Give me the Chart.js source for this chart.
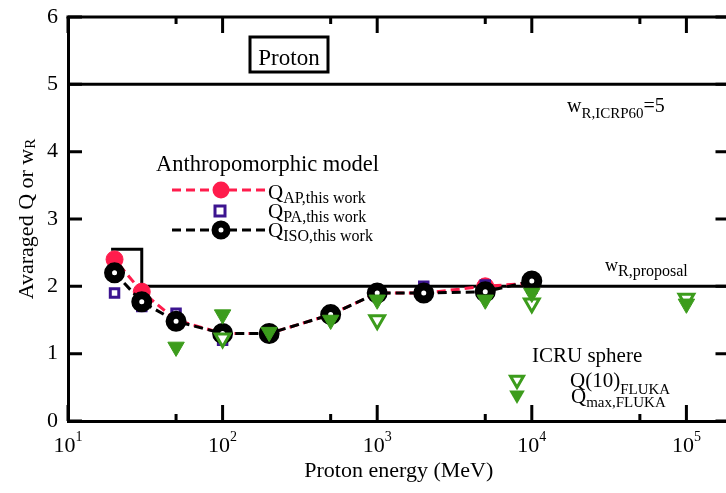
<!DOCTYPE html>
<html><head><meta charset="utf-8">
<script src="https://cdn.jsdelivr.net/npm/chart.js@4.4.1/dist/chart.umd.min.js"></script>
<style>html,body{margin:0;padding:0;background:#fff;overflow:hidden;width:726px;height:493px}canvas{display:block}</style>
</head><body><canvas id="c" width="744" height="493"></canvas>
<script>
// ---- data ----
const energies = [20, 30, 50, 100, 200, 500, 1000, 2000, 5000, 10000];
const qAP  = [2.40, 1.92, 1.50, 1.30, 1.30, 1.58, 1.90, 1.90, 2.00, 2.05];
const qPA  = [1.90, 1.70, 1.60, 1.20, 1.28, 1.56, 1.92, 2.00, 2.02, 1.97];
const qISO = [2.20, 1.77, 1.48, 1.30, 1.30, 1.58, 1.90, 1.90, 1.92, 2.08];
const qMaxEnergies = [50, 100, 200, 500, 1000, 5000, 10000, 100000];
const qMaxFluka    = [1.10, 1.58, 1.32, 1.50, 1.80, 1.80, 1.90, 1.74];
const q10Energies  = [100, 1000, 10000, 100000];
const q10Fluka     = [1.23, 1.50, 1.75, 1.82];
const icrp60Energies = [10, 190000];
const icrp60Values   = [5, 5];
const proposalEnergies = [19, 30, 30, 190000];
const proposalValues   = [2.55, 2.55, 2, 2];
const yTickValues  = [0, 1, 2, 3, 4, 5, 6];
const xMajorTicks  = [10, 100, 1000, 10000, 100000];
const xTickExps    = ['1', '2', '3', '4', '5'];
const xMinorTicks  = [50, 500, 5000, 50000];

const RED = '#ff1c4c', PURPLE = '#3c1490', GREEN = '#3c9c1c', BLACK = '#000';
const SERIF = '"Liberation Serif", "Times New Roman", serif';
const pts = (xs, ys) => xs.map((e, i) => ({x: e, y: ys[i]}));

function subText(ctx, x, y, main, sub, mainPx, subPx, dy) {
  ctx.font = mainPx + 'px ' + SERIF;
  ctx.fillText(main, x, y);
  const w = ctx.measureText(main).width;
  ctx.font = subPx + 'px ' + SERIF;
  ctx.fillText(sub, x + w, y + dy);
  return w + ctx.measureText(sub).width;
}

const decor = {
  id: 'decor',
  afterDraw(chart) {
    const {ctx, chartArea: a, scales: {x, y}} = chart;
    ctx.save();
    ctx.strokeStyle = BLACK; ctx.fillStyle = BLACK; ctx.lineWidth = 3;
    // top and right frame
    ctx.beginPath(); ctx.moveTo(a.left - 1.5, a.top); ctx.lineTo(a.right, a.top); ctx.lineTo(a.right, a.bottom); ctx.stroke();
    // y ticks (left & right, inward)
    ctx.beginPath();
    yTickValues.forEach(v => {
      const py = y.getPixelForValue(v);
      ctx.moveTo(a.left, py); ctx.lineTo(a.left + 14, py);
      ctx.moveTo(a.right, py); ctx.lineTo(a.right - 14, py);
    });
    // x ticks (bottom & top, inward)
    xMajorTicks.forEach(v => {
      const px = x.getPixelForValue(v);
      ctx.moveTo(px, a.bottom); ctx.lineTo(px, a.bottom - 16);
      ctx.moveTo(px, a.top); ctx.lineTo(px, a.top + 16);
    });
    xMinorTicks.forEach(v => {
      const px = x.getPixelForValue(v);
      ctx.moveTo(px, a.bottom); ctx.lineTo(px, a.bottom - 7);
      ctx.moveTo(px, a.top); ctx.lineTo(px, a.top + 7);
    });
    ctx.stroke();

    // y tick labels
    ctx.font = '22px ' + SERIF; ctx.textAlign = 'right'; ctx.textBaseline = 'middle';
    yTickValues.forEach(v => ctx.fillText(String(v), a.left - 10, y.getPixelForValue(v)));

    // x tick labels 10^n
    ctx.textBaseline = 'alphabetic'; ctx.textAlign = 'left';
    xMajorTicks.forEach((v, i) => {
      const px = x.getPixelForValue(v);
      ctx.font = '22px ' + SERIF;
      const w1 = ctx.measureText('10').width;
      ctx.font = '14px ' + SERIF;
      const w2 = ctx.measureText(xTickExps[i]).width;
      const x0 = px - (w1 + w2) / 2;
      ctx.font = '22px ' + SERIF; ctx.fillText('10', x0, 452);
      ctx.font = '14px ' + SERIF; ctx.fillText(xTickExps[i], x0 + w1, 441);
    });

    // x title
    ctx.font = '22px ' + SERIF; ctx.textAlign = 'center';
    ctx.fillText('Proton energy (MeV)', (a.left + a.right) / 2, 477);
    ctx.textAlign = 'left';

    // y title (rotated)
    ctx.save();
    ctx.translate(33, (a.top + a.bottom) / 2);
    ctx.rotate(-Math.PI / 2);
    ctx.font = '22px ' + SERIF;
    const t1 = 'Avaraged Q or w';
    const tw1 = ctx.measureText(t1).width;
    ctx.font = '15px ' + SERIF;
    const tw2 = ctx.measureText('R').width;
    subText(ctx, -(tw1 + tw2) / 2, 0, t1, 'R', 22, 15, 2);
    ctx.restore();

    // Proton box
    ctx.lineWidth = 3;
    ctx.strokeRect(250, 37, 78, 35);
    ctx.font = '23px ' + SERIF; ctx.textAlign = 'center';
    ctx.fillText('Proton', 289, 65);
    ctx.textAlign = 'left';

    // w_R,ICRP60 = 5
    let w = subText(ctx, 567, 112, 'w', 'R,ICRP60', 20, 15, 6);
    ctx.font = '20px ' + SERIF; ctx.fillText('=5', 567 + w, 112);

    // w_R,proposal
    subText(ctx, 605, 271, 'w', 'R,proposal', 18, 16, 5);

    // Anthropomorphic legend
    ctx.font = '22.5px ' + SERIF;
    ctx.fillText('Anthropomorphic model', 156, 171);
    ctx.setLineDash([9, 5]); ctx.lineWidth = 3; ctx.strokeStyle = RED;
    ctx.beginPath(); ctx.moveTo(172, 190); ctx.lineTo(266, 190); ctx.stroke();
    ctx.strokeStyle = BLACK;
    ctx.beginPath(); ctx.moveTo(172, 230); ctx.lineTo(266, 230); ctx.stroke();
    ctx.setLineDash([]);
    ctx.fillStyle = RED; ctx.beginPath(); ctx.arc(221, 190, 8.5, 0, Math.PI * 2); ctx.fill();
    ctx.fillStyle = '#fff'; ctx.strokeStyle = PURPLE; ctx.lineWidth = 3;
    ctx.fillRect(215, 206, 10, 10); ctx.strokeRect(215, 206, 10, 10);
    ctx.fillStyle = '#fff'; ctx.strokeStyle = BLACK; ctx.lineWidth = 7;
    ctx.beginPath(); ctx.arc(221, 230, 6, 0, Math.PI * 2); ctx.fill(); ctx.stroke();
    ctx.fillStyle = BLACK;
    subText(ctx, 268, 199, 'Q', 'AP,this work', 21, 16, 4);
    subText(ctx, 268, 218, 'Q', 'PA,this work', 21, 16, 4);
    subText(ctx, 268, 237, 'Q', 'ISO,this work', 21, 16, 4);

    // ICRU sphere legend
    ctx.font = '21px ' + SERIF;
    ctx.fillText('ICRU sphere', 532, 362);
    subText(ctx, 570, 387, 'Q(10)', 'FLUKA', 21, 15, 7);
    subText(ctx, 571, 403, 'Q', 'max,FLUKA', 21, 15, 4);
    const tri = (cx, cy, r, filled) => {
      ctx.beginPath();
      ctx.moveTo(cx - r * 0.866, cy - r / 2);
      ctx.lineTo(cx + r * 0.866, cy - r / 2);
      ctx.lineTo(cx, cy + r);
      ctx.closePath();
      if (filled) { ctx.fillStyle = GREEN; ctx.fill(); }
      else { ctx.fillStyle = '#fff'; ctx.fill(); ctx.strokeStyle = GREEN; ctx.lineWidth = 3; ctx.stroke(); }
    };
    tri(517, 380, 7.5, false);
    tri(517, 395, 9, true);
    ctx.restore();
  }
};

new Chart(document.getElementById('c'), {
  type: 'line',
  data: {
    datasets: [
      { label: 'Qmax FLUKA', data: pts(qMaxEnergies, qMaxFluka), showLine: false,
        pointStyle: 'triangle', rotation: 180, pointRadius: 9.5, pointBorderWidth: 1,
        pointBackgroundColor: GREEN, pointBorderColor: GREEN },
      { label: 'Q(10) FLUKA', data: pts(q10Energies, q10Fluka), showLine: false,
        pointStyle: 'triangle', rotation: 180, pointRadius: 8.5, pointBorderWidth: 3,
        pointBackgroundColor: '#fff', pointBorderColor: GREEN },
      { label: 'Q ISO', data: pts(energies, qISO), borderColor: BLACK, borderWidth: 3,
        borderDash: [9, 5], pointStyle: 'circle', pointRadius: 6.5, pointBorderWidth: 8,
        pointBackgroundColor: '#fff', pointBorderColor: BLACK, tension: 0 },
      { label: 'Q PA', data: pts(energies, qPA), showLine: false,
        pointStyle: 'rect', pointRadius: 6, pointBorderWidth: 3,
        pointBackgroundColor: '#fff', pointBorderColor: PURPLE },
      { label: 'Q AP', data: pts(energies, qAP), borderColor: RED, borderWidth: 3,
        borderDash: [9, 5], borderDashOffset: 7, pointStyle: 'circle', pointRadius: 8.5,
        pointBorderWidth: 1, pointBackgroundColor: RED, pointBorderColor: RED, tension: 0 },
      { label: 'wR proposal', data: pts(proposalEnergies, proposalValues), borderColor: BLACK,
        borderWidth: 3, pointRadius: 0, tension: 0 },
      { label: 'wR ICRP60', data: pts(icrp60Energies, icrp60Values), borderColor: BLACK,
        borderWidth: 3, pointRadius: 0, tension: 0 }
    ]
  },
  options: {
    responsive: false, animation: false, devicePixelRatio: 1,
    layout: { padding: { left: 0, top: 17, right: 0, bottom: 0 } },
    plugins: { legend: { display: false }, tooltip: { enabled: false } },
    scales: {
      x: { type: 'logarithmic', min: 10, max: 190000,
        grid: { display: false, drawTicks: false },
        border: { display: true, width: 3, color: BLACK },
        ticks: { display: false },
        afterFit: s => { s.height = 72; } },
      y: { type: 'linear', min: 0, max: 6,
        grid: { display: false, drawTicks: false },
        border: { display: true, width: 3, color: BLACK },
        ticks: { display: false, stepSize: 1 },
        afterFit: s => { s.width = 68; } }
    }
  },
  plugins: [decor]
});
</script></body></html>
